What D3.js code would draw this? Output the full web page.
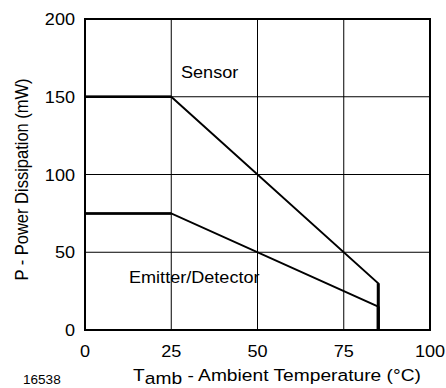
<!DOCTYPE html>
<html>
<head>
<meta charset="utf-8">
<script src="https://cdn.jsdelivr.net/npm/d3@7"></script>
<style>
  body { margin: 0; background: #fff; }
  text { font-family: "Liberation Sans", Arial, sans-serif; fill: #000; }
</style>
</head>
<body>
<div id="chart"></div>
<script>
const xTicks = [0, 25, 50, 75, 100];
const yTicks = [0, 50, 100, 150, 200];
const sensorT = [0, 25, 85, 85];
const sensorP = [150, 150, 30, 0];
const emitterT = [0, 25, 85, 85];
const emitterP = [75, 75, 15, 0];

const width = 446, height = 388;
const margin = { top: 19, right: 16, bottom: 58, left: 85 };
const stretch = 1.13; // the original lettering is a bit wide

const svg = d3.select('#chart')
  .append('svg')
  .attr('width', width)
  .attr('height', height);

const x = d3.scaleLinear().domain([0, 100]).range([margin.left, width - margin.right]);
const y = d3.scaleLinear().domain([0, 200]).range([height - margin.bottom, margin.top]);

// put a text at (px, py), stretched horizontally
function label(px, py, str, size, anchor) {
  return svg.append('text')
    .attr('transform', `translate(${px}, ${py}) scale(${stretch}, 1)`)
    .attr('text-anchor', anchor || 'start')
    .style('font-size', size + 'px')
    .text(str);
}

// grid
svg.append('g')
  .selectAll('line')
  .data(xTicks.slice(1, -1))
  .enter().append('line')
  .attr('x1', d => x(d)).attr('x2', d => x(d))
  .attr('y1', y(0)).attr('y2', y(200))
  .attr('stroke', '#000').attr('stroke-width', 1);

svg.append('g')
  .selectAll('line')
  .data(yTicks.slice(1, -1))
  .enter().append('line')
  .attr('y1', d => y(d)).attr('y2', d => y(d))
  .attr('x1', x(0)).attr('x2', x(100))
  .attr('stroke', '#000').attr('stroke-width', 1);

// frame
svg.append('rect')
  .attr('x', x(0)).attr('y', y(200))
  .attr('width', x(100) - x(0)).attr('height', y(0) - y(200))
  .attr('fill', 'none').attr('stroke', '#000').attr('stroke-width', 2);

// curves
const line = d3.line().x(d => x(d[0])).y(d => y(d[1]));
[[sensorT, sensorP], [emitterT, emitterP]].forEach(([ts, ps]) => {
  const pts = ts.map((t, i) => [t, ps[i]]);
  svg.append('path')
    .attr('d', line(pts))
    .attr('fill', 'none')
    .attr('stroke', '#000')
    .attr('stroke-width', 2);
  // heavier flat and vertical parts
  svg.append('path')
    .attr('d', line(pts.slice(0, 2)))
    .attr('stroke', '#000').attr('stroke-width', 2.5);
  svg.append('path')
    .attr('d', line(pts.slice(2)))
    .attr('stroke', '#000').attr('stroke-width', 3);
});

// tick labels
xTicks.forEach(d => label(x(d), 357, d, 16, 'middle'));
yTicks.forEach(d => label(75, y(d) + 6, d, 16, 'end'));

// curve labels
label(181, 78, 'Sensor', 16);
label(129, 283, 'Emitter/Detector', 16);

// axis titles
const xt = label(133, 381, '', 17);
xt.append('tspan').text('T');
xt.append('tspan').attr('dy', 3).text('amb');
xt.append('tspan').attr('dy', -3).text(' - Ambient Temperature (°C)');

svg.append('text')
  .attr('transform', `translate(28, ${y(100) + 5}) rotate(-90) scale(1, ${stretch})`)
  .attr('text-anchor', 'middle')
  .style('font-size', '16.5px')
  .text('P - Power Dissipation (mW)');

label(23, 384, '16538', 12);
</script>
</body>
</html>
